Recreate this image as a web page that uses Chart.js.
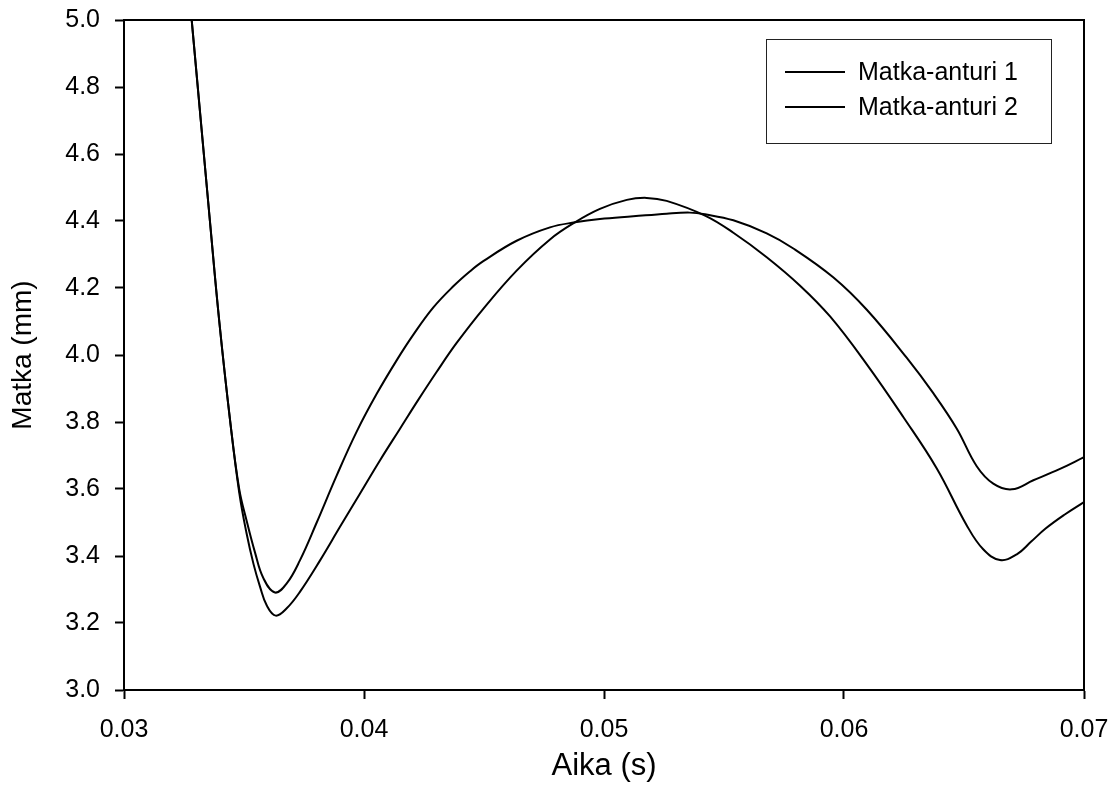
<!DOCTYPE html>
<html>
<head>
<meta charset="utf-8">
<script src="https://cdn.jsdelivr.net/npm/chart.js@4.4.1/dist/chart.umd.min.js"></script>
<style>
  html, body { margin: 0; padding: 0; background: #fff; }
  #wrap { width: 1116px; height: 785px; position: relative; }
</style>
</head>
<body>
<div id="wrap"><canvas id="c"></canvas></div>
<script>
// ---- data ----
const seriesNames = ["Matka-anturi 1", "Matka-anturi 2"];

const x1 = [0.0325, 0.03282, 0.03358, 0.03397, 0.03442, 0.03480, 0.03510, 0.03540, 0.03567, 0.03595,
            0.03632, 0.03678, 0.03733, 0.03817, 0.03900, 0.03983, 0.04067, 0.04150, 0.04226, 0.04303,
            0.04386, 0.04497, 0.04636, 0.04775, 0.04879, 0.04983, 0.05095, 0.05178, 0.05261, 0.05421,
            0.05539, 0.05678, 0.05817, 0.05942, 0.06095, 0.06247, 0.06386, 0.06511, 0.06580, 0.06650,
            0.06720, 0.06780, 0.06840, 0.06920, 0.07000];
const y1 = [5.25, 5.00, 4.40, 4.10, 3.805, 3.590, 3.470, 3.375, 3.308, 3.252,
            3.222, 3.244, 3.293, 3.387, 3.487, 3.586, 3.686, 3.780, 3.866, 3.950,
            4.036, 4.138, 4.252, 4.345, 4.396, 4.436, 4.463, 4.469, 4.460, 4.416,
            4.365, 4.292, 4.207, 4.115, 3.972, 3.815, 3.662, 3.492, 3.420, 3.388,
            3.405, 3.443, 3.482, 3.524, 3.561];

const x2 = [0.0325, 0.03282, 0.03358, 0.03397, 0.03442, 0.03480, 0.03511, 0.03546, 0.03580, 0.03629,
            0.03678, 0.03733, 0.03803, 0.03886, 0.03970, 0.04053, 0.04136, 0.04205, 0.04289, 0.04372,
            0.04442, 0.04497, 0.04636, 0.04775, 0.04879, 0.04983, 0.05122, 0.05261, 0.05358, 0.05421,
            0.05539, 0.05678, 0.05789, 0.05955, 0.06095, 0.06261, 0.06372, 0.06470, 0.06553, 0.06622,
            0.06699, 0.06789, 0.06900, 0.07000];
const y2 = [5.25, 5.00, 4.40, 4.10, 3.805, 3.600, 3.505, 3.410, 3.335, 3.291,
            3.318, 3.387, 3.500, 3.640, 3.772, 3.884, 3.984, 4.060, 4.142, 4.205,
            4.250, 4.280, 4.341, 4.381, 4.396, 4.406, 4.414, 4.422, 4.425, 4.420,
            4.402, 4.363, 4.318, 4.232, 4.135, 3.992, 3.886, 3.780, 3.668, 3.616,
            3.599, 3.626, 3.660, 3.695];

const xTickValues = [0.03, 0.04, 0.05, 0.06, 0.07];
const yTickValues = [3.0, 3.2, 3.4, 3.6, 3.8, 4.0, 4.2, 4.4, 4.6, 4.8, 5.0];
const xTickLabels = ["0.03", "0.04", "0.05", "0.06", "0.07"];
const yTickLabels = ["3.0", "3.2", "3.4", "3.6", "3.8", "4.0", "4.2", "4.4", "4.6", "4.8", "5.0"];
const xTitle = "Aika (s)";
const yTitle = "Matka (mm)";

// ---- chart ----
const FONT = "'Liberation Sans', Arial, sans-serif";
const toPts = (xs, ys) => xs.map((x, i) => ({ x: x, y: ys[i] }));

const bgPlugin = {
  id: 'bg',
  beforeDraw(chart) {
    const ctx = chart.ctx;
    ctx.save();
    ctx.fillStyle = '#fff';
    ctx.fillRect(0, 0, chart.width, chart.height);
    ctx.restore();
  }
};

const framePlugin = {
  id: 'frame',
  afterDatasetsDraw(chart) {
    const { ctx, chartArea: a } = chart;
    ctx.save();
    ctx.strokeStyle = '#000';
    ctx.lineWidth = 2;
    ctx.beginPath();
    ctx.moveTo(a.left, a.top);
    ctx.lineTo(a.right, a.top);
    ctx.lineTo(a.right, a.bottom);
    ctx.stroke();
    ctx.restore();
  }
};

const legendPlugin = {
  id: 'boxLegend',
  afterDraw(chart) {
    const ctx = chart.ctx;
    const bx = 766, by = 39, bw = 285, bh = 104;
    ctx.save();
    ctx.strokeStyle = '#222';
    ctx.lineWidth = 1;
    ctx.strokeRect(bx + 0.5, by + 0.5, bw, bh);
    ctx.font = '25px ' + FONT;
    ctx.textBaseline = 'middle';
    ctx.textAlign = 'left';
    chart.data.datasets.forEach((ds, i) => {
      const yy = 72 + i * 35;
      ctx.strokeStyle = ds.borderColor;
      ctx.lineWidth = ds.borderWidth;
      ctx.beginPath();
      ctx.moveTo(785, yy);
      ctx.lineTo(845, yy);
      ctx.stroke();
      ctx.fillStyle = '#000';
      ctx.fillText(ds.label, 858, yy + 1);
    });
    ctx.restore();
  }
};

new Chart(document.getElementById('c'), {
  type: 'line',
  data: {
    datasets: [
      { label: seriesNames[0], data: toPts(x1, y1), borderColor: '#000', borderWidth: 2,
        pointRadius: 0, fill: false, tension: 0.4 },
      { label: seriesNames[1], data: toPts(x2, y2), borderColor: '#000', borderWidth: 2,
        pointRadius: 0, fill: false, tension: 0.4 }
    ]
  },
  options: {
    responsive: true,
    maintainAspectRatio: false,
    animation: false,
    layout: { padding: { left: 0, top: 20, right: 32, bottom: 0 } },
    plugins: { legend: { display: false }, tooltip: { enabled: false } },
    scales: {
      x: {
        type: 'linear', min: 0.03, max: 0.07,
        afterBuildTicks: s => { s.ticks = xTickValues.map(v => ({ value: v })); },
        afterFit: s => { s.height = 95; s.paddingLeft = 0; s.paddingRight = 0; },
        ticks: {
          color: '#000', padding: 16, maxRotation: 0, autoSkip: false,
          font: { family: FONT, size: 25 },
          callback: (v) => { const i = xTickValues.findIndex(t => Math.abs(t - v) < 1e-9); return i >= 0 ? xTickLabels[i] : ''; }
        },
        grid: { drawOnChartArea: false, drawTicks: true, tickLength: 9, tickColor: '#000', tickWidth: 2 },
        border: { display: true, color: '#000', width: 2 },
        title: { display: true, text: xTitle, color: '#000', font: { family: FONT, size: 31 }, padding: { top: 0, bottom: 0 } }
      },
      y: {
        type: 'linear', min: 3.0, max: 5.0,
        afterBuildTicks: s => { s.ticks = yTickValues.map(v => ({ value: v })); },
        afterFit: s => { s.width = 124; s.paddingTop = 0; s.paddingBottom = 0; },
        ticks: {
          color: '#000', padding: 15, autoSkip: false,
          font: { family: FONT, size: 25 },
          callback: (v) => { const i = yTickValues.findIndex(t => Math.abs(t - v) < 1e-9); return i >= 0 ? yTickLabels[i] : ''; }
        },
        grid: { drawOnChartArea: false, drawTicks: true, tickLength: 9, tickColor: '#000', tickWidth: 2 },
        border: { display: true, color: '#000', width: 2 },
        title: { display: true, text: yTitle, color: '#000', font: { family: FONT, size: 28 }, padding: { top: 6, bottom: 0 } }
      }
    }
  },
  plugins: [bgPlugin, framePlugin, legendPlugin]
});
</script>
</body>
</html>
